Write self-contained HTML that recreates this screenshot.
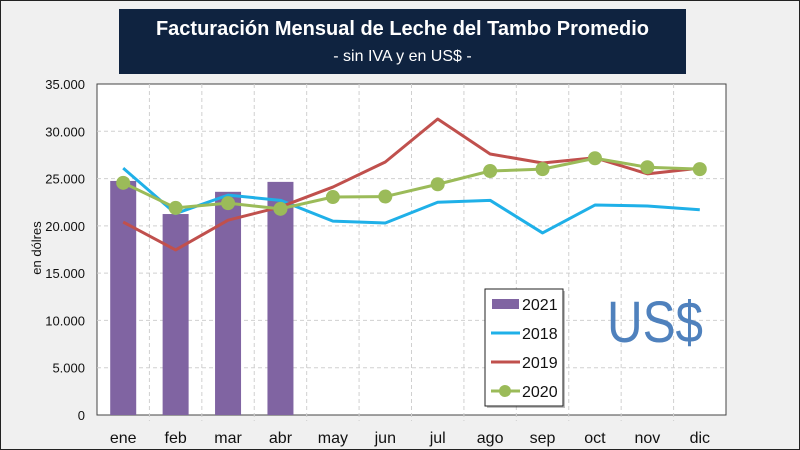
<!DOCTYPE html>
<html><head><meta charset="utf-8"><style>
html,body{margin:0;padding:0}
body{width:800px;height:450px;overflow:hidden;background:#f0f0f0;font-family:"Liberation Sans",sans-serif}
#frame{position:absolute;left:0;top:0;width:798px;height:448px;border:1px solid #222;background:#f0f0f0}
#title{position:absolute;left:119px;top:9px;width:567px;height:65px;background:#0f2340;color:#fff;text-align:center;white-space:nowrap}
</style></head><body>
<div id="frame"></div>
<div id="title">
<div style="font-weight:bold;font-size:20px;margin-top:9px">Facturación Mensual de Leche del Tambo Promedio</div>
<div style="font-size:16px;margin-top:7px">- sin IVA y en US$ -</div>
</div>
<svg id="chart" width="800" height="450" style="position:absolute;left:0;top:0"></svg>
<script>
const months=["ene","feb","mar","abr","may","jun","jul","ago","sep","oct","nov","dic"];
const yTicks=[0,5000,10000,15000,20000,25000,30000,35000];
const yTickLabels=["0","5.000","10.000","15.000","20.000","25.000","30.000","35.000"];
const s2021=[24750,21250,23600,24650];
const s2018=[26100,21300,23250,22700,20500,20300,22500,22700,19250,22200,22100,21700];
const s2019=[20400,17450,20600,22000,24100,26750,31300,27600,26650,27200,25500,26100];
const s2020=[24550,21900,22400,21800,23050,23100,24400,25800,26000,27150,26200,26000];

const L=97,R=726,T=84,B=415,NS="http://www.w3.org/2000/svg";
const svg=document.getElementById('chart');
const bw=(R-L)/months.length;
const x=i=>L+bw*(i+0.5);
const y=v=>B-(v/35000)*(B-T);
function mk(tag,attrs,parent){const e=document.createElementNS(NS,tag);for(const k in attrs)e.setAttribute(k,attrs[k]);(parent||svg).appendChild(e);return e;}

const plot=mk('rect',{x:L,y:T,width:R-L,height:B-T,fill:'#fff',stroke:'#444','stroke-width':1});


yTicks.forEach((t,i)=>{
  if(t>0&&t<35000){const g=mk('line',{x1:L,x2:R,y1:y(t),y2:y(t),stroke:'#d0d0d0','stroke-dasharray':'4,3'});
  
  }
  const tx=mk('text',{x:85,y:y(t)+5,'text-anchor':'end','font-size':13,fill:'#111'});tx.textContent=yTickLabels[i];
  
  
});
months.forEach((m,i)=>{
  if(i>0){const g=mk('line',{x1:L+bw*i,x2:L+bw*i,y1:T,y2:B+6,stroke:'#d0d0d0','stroke-dasharray':'4,3'});
  
  }
  const tx=mk('text',{x:x(i),y:443,'text-anchor':'middle','font-size':16,fill:'#111'});tx.textContent=m;
  
  
});
const yl=mk('text',{x:0,y:0,transform:'translate(41,248) rotate(-90)','text-anchor':'middle','font-size':13,fill:'#111'});yl.textContent='en dólres';



s2021.forEach((v,i)=>{
  const r=mk('rect',{x:x(i)-13,y:y(v),width:26,height:B-y(v),fill:'#8064a2'});
  
  
});
function line(data,color,name){
  const p=mk('polyline',{points:data.map((v,i)=>x(i)+','+y(v)).join(' '),fill:'none',stroke:color,'stroke-width':3,'stroke-linejoin':'round'});
  
  
}
line(s2018,'#1fb0e8','line-2018');
line(s2019,'#c0504d','line-2019');
line(s2020,'#9bbb59','line-2020');
s2020.forEach((v,i)=>{
  const c=mk('circle',{cx:x(i),cy:y(v),r:7,fill:'#9bbb59'});
  
  
});

const lg=mk('g',{});


mk('rect',{x:487,y:291,width:78,height:117,fill:'#000',opacity:0.25},lg);
mk('rect',{x:485,y:289,width:78,height:117,fill:'#fff',stroke:'#222','stroke-width':1},lg);
const entries=[["2021",'#8064a2','bar'],["2018",'#1fb0e8','line'],["2019",'#c0504d','line'],["2020",'#9bbb59','dot']];
entries.forEach((e,i)=>{
  const cy=304+i*29;
  const g=mk('g',{},lg);
  
  
  if(e[2]==='bar')mk('rect',{x:492,y:cy-5,width:27,height:10,fill:e[1]},g);
  else mk('line',{x1:491,x2:520,y1:cy,y2:cy,stroke:e[1],'stroke-width':3},g);
  if(e[2]==='dot')mk('circle',{cx:505,cy:cy,r:6,fill:e[1]},g);
  const t=mk('text',{x:522,y:cy+6,'font-size':16,fill:'#111'},g);t.textContent=e[0];
});
const us=mk('text',{x:655,y:342,'text-anchor':'middle','font-size':58,fill:'#4f81bd',textLength:96,lengthAdjust:'spacingAndGlyphs'});us.textContent='US$';


</script>
</body></html>
